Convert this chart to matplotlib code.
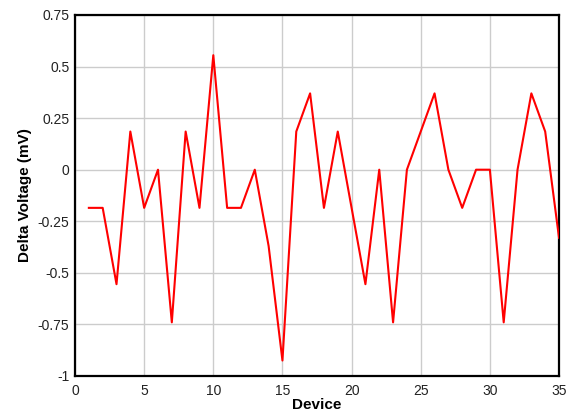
import matplotlib.pyplot as plt

plt.rcParams['font.family'] = ['Liberation Sans', 'DejaVu Sans']

device = list(range(1, 36))
delta_mv = [-0.185, -0.185, -0.555, 0.185, -0.185, 0.0, -0.74, 0.185, -0.185, 0.555,
            -0.185, -0.185, 0.0, -0.37, -0.925, 0.185, 0.37, -0.185, 0.185, -0.185,
            -0.555, 0.0, -0.74, 0.0, 0.185, 0.37, 0.0, -0.185, 0.0, 0.0,
            -0.74, 0.0, 0.37, 0.185, -0.33]
xticks = [0, 5, 10, 15, 20, 25, 30, 35]
yticks = [-1, -0.75, -0.5, -0.25, 0, 0.25, 0.5, 0.75]

fig = plt.figure(figsize=(5.74, 4.15), dpi=100)
ax = fig.add_axes([0.1307, 0.094, 0.8432, 0.8699])

ax.plot(device, delta_mv, color='#ff0000', lw=1.5, zorder=3)

ax.set_xlim(0, 35)
ax.set_ylim(-1, 0.75)
ax.set_xticks(xticks)
ax.set_yticks(yticks)
ax.set_xticklabels([f'{v:g}' for v in xticks])
ax.set_yticklabels([f'{v:g}' for v in yticks])
ax.tick_params(length=0, labelsize=10, colors='#222222')
ax.tick_params(axis='y', pad=4)
ax.tick_params(axis='x', pad=6)
ax.grid(True, color='#cccccc', lw=1)
ax.set_axisbelow(True)
for s in ax.spines.values():
    s.set_linewidth(1.6)
    s.set_color('black')

ax.set_xlabel('Device', fontsize=11, fontweight='bold', labelpad=0)
ax.set_ylabel('Delta Voltage (mV)', fontsize=11, fontweight='bold', labelpad=4)

fig.savefig('out.png', dpi=100)
